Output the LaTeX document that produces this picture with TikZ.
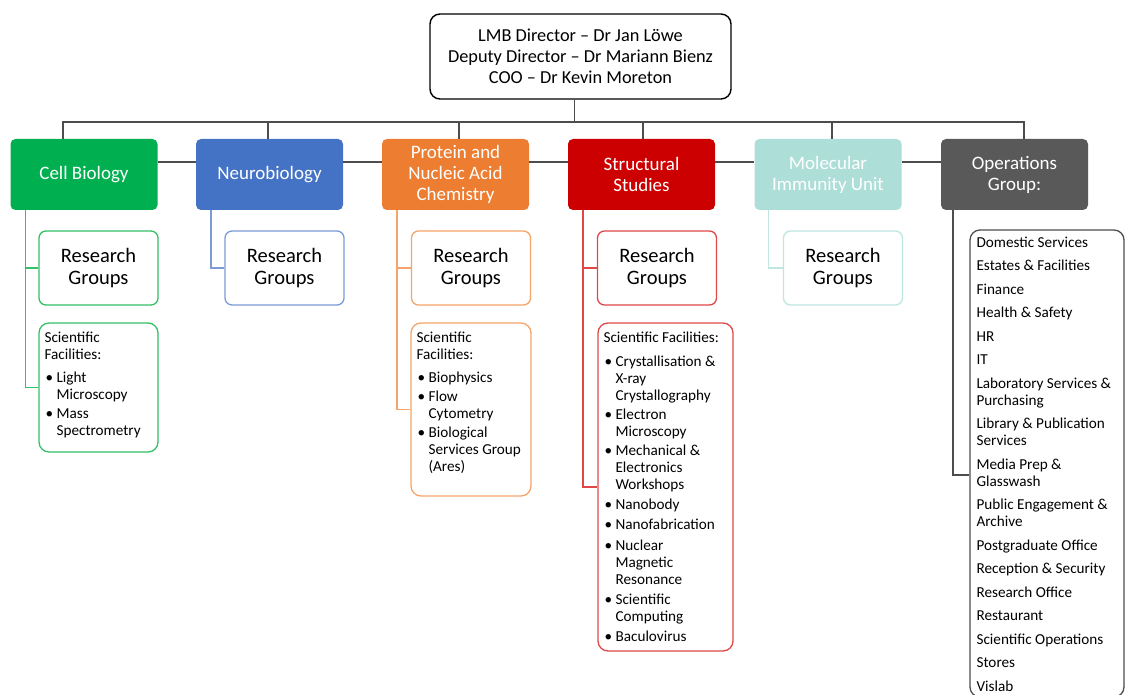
\documentclass[tikz,border=0pt]{standalone}
\usepackage{fontspec}
\setmainfont{Carlito}
\usetikzlibrary{positioning}

\definecolor{busgray}{HTML}{4D4D4D}
\definecolor{cbfill}{HTML}{00B050}
\definecolor{cbline}{HTML}{33C066}
\definecolor{nbfill}{HTML}{4472C4}
\definecolor{nbline}{HTML}{7B9BD6}
\definecolor{pnfill}{HTML}{ED7D31}
\definecolor{pnline}{HTML}{F5A46A}
\definecolor{ssfill}{HTML}{CC0000}
\definecolor{ssline}{HTML}{E04848}
\definecolor{mifill}{HTML}{AEDED8}
\definecolor{miline}{HTML}{BFE6E1}
\definecolor{opfill}{HTML}{595959}

\newcommand{\sfbul}{\makebox[12pt][l]{\hspace{1pt}\textbullet}}
\newcommand{\sfind}{\hspace*{12pt}}

\begin{document}
\begin{tikzpicture}[x=1pt, y=-1pt,
        dept/.style={rounded corners=5pt, minimum width=147pt, minimum height=71pt,
            inner sep=2pt, align=center, text=white, font=\fontsize{19}{21}\selectfont},
        rgbox/.style={draw, line width=1.3pt, rounded corners=7pt, fill=white,
            minimum width=119pt, minimum height=74pt, align=center,
            font=\fontsize{20.5}{22.5}\selectfont},
        sfbox/.style={draw, line width=1.3pt, rounded corners=10pt, fill=white},
        sftext/.style={anchor=north west, inner sep=0pt, align=left,
            font=\fontsize{15.2}{17}\selectfont},
        bus/.style={draw=busgray, line width=1.8pt},
        sub/.style={line width=1.4pt}]
    \useasboundingbox (0,0) rectangle (1125,695);

    % director box
    \node[draw, line width=1.4pt, rounded corners=10pt, minimum width=301pt, minimum height=85pt,
        align=center, font=\fontsize{18.3}{21}\selectfont] (top) at (580.5,56.5)
        {LMB Director -- Dr Jan Löwe\\ Deputy Director -- Dr Mariann Bienz\\ COO -- Dr Kevin Moreton};

    % divisions
    \node[dept, fill=cbfill] (cell) at (84,174.5) {Cell Biology};
    \node[dept, fill=nbfill] (neuro) at (269.5,174.5) {Neurobiology};
    \node[dept, fill=pnfill] (prot) at (455.5,174.5) {Protein and\\ Nucleic Acid\\ Chemistry};
    \node[dept, fill=ssfill] (struct) at (641.5,174.5) {Structural\\ Studies};
    \node[dept, fill=mifill] (mol) at (828,174.5) {Molecular\\ Immunity Unit};
    \node[dept, fill=opfill] (ops) at (1014.5,174.5) {Operations\\ Group:};

    % research groups
    \node[rgbox, draw=cbline] (cellrg) at (98.5,268) {Research\\ Groups};
    \node[rgbox, draw=nbline] (neurorg) at (284.5,268) {Research\\ Groups};
    \node[rgbox, draw=pnline] (protrg) at (471,268) {Research\\ Groups};
    \node[rgbox, draw=ssline] (structrg) at (657,268) {Research\\ Groups};
    \node[rgbox, draw=miline] (molrg) at (843,268) {Research\\ Groups};

    % scientific facilities
    \node[sfbox, draw=cbline, minimum width=119pt, minimum height=129pt] (cellsf) at (98.5,387.5) {};
    \node[sftext] (cellsftext) at ([xshift=6pt,yshift=-9pt]cellsf.north west)
        {Scientific\\ Facilities:\\[6pt]
         \sfbul Light\\ \sfind Microscopy\\[2pt]
         \sfbul Mass\\ \sfind Spectrometry};
    \node[sfbox, draw=pnline, minimum width=120pt, minimum height=173pt] (protsf) at (471,409.5) {};
    \node[sftext] (protsftext) at ([xshift=6pt,yshift=-9pt]protsf.north west)
        {Scientific\\ Facilities:\\[6pt]
         \sfbul Biophysics\\[2pt]
         \sfbul Flow\\ \sfind Cytometry\\[2pt]
         \sfbul Biological\\ \sfind Services Group\\ \sfind (Ares)};
    \node[sfbox, draw=ssline, minimum width=135pt, minimum height=328pt] (structsf) at (665.5,487) {};
    \node[sftext] (structsftext) at ([xshift=6pt,yshift=-9pt]structsf.north west)
        {Scientific Facilities:\\[7pt]
         \sfbul Crystallisation \&\\ \sfind X-ray\\ \sfind Crystallography\\[2pt]
         \sfbul Electron\\ \sfind Microscopy\\[2pt]
         \sfbul Mechanical \&\\ \sfind Electronics\\ \sfind Workshops\\[3pt]
         \sfbul Nanobody\\[3pt]
         \sfbul Nanofabrication\\[4pt]
         \sfbul Nuclear\\ \sfind Magnetic\\ \sfind Resonance\\[3pt]
         \sfbul Scientific\\ \sfind Computing\\[3pt]
         \sfbul Baculovirus};

    % operations list
    \node[draw=busgray, line width=1.3pt, rounded corners=10pt, minimum width=154pt,
        minimum height=467pt] (opslist) at (1047,463.5) {};
    \node[sftext, font=\fontsize{15.2}{17}\selectfont]
        (opsitems) at ([xshift=7pt,yshift=-7pt]opslist.north west)
        {Domestic Services\\[6.5pt] Estates \& Facilities\\[6.5pt] Finance\\[6.5pt]
         Health \& Safety\\[6.5pt] HR\\[6.5pt] IT\\[6.5pt]
         Laboratory Services \&\\ Purchasing\\[6.5pt]
         Library \& Publication\\ Services\\[6.5pt]
         Media Prep \&\\ Glasswash\\[6.5pt]
         Public Engagement \&\\ Archive\\[6.5pt]
         Postgraduate Office\\[6.5pt] Reception \& Security\\[6.5pt]
         Research Office\\[6.5pt] Restaurant\\[6.5pt]
         Scientific Operations\\[6.5pt] Stores\\[6.5pt] Vislab};

    % main bus
    \draw[bus] ([xshift=-6pt]top.south) -- ++(0,23);
    \draw[bus] ([xshift=-21pt]cell.north) -- ++(0,-17) -| ([xshift=9.5pt]ops.north);
    \foreach \d/\dx in {neuro/-1.5, prot/3.5, struct/1.5, mol/4}
        \draw[bus] ([xshift=\dx pt]\d.north) -- ++(0,-17);
    \foreach \a/\b in {cell/neuro, neuro/prot, prot/struct, struct/mol, mol/ops}
        \draw[bus] ([yshift=12.5pt]\a.east) -- ([yshift=12.5pt]\b.west);

    % division links
    \draw[sub, draw=cbline] ([xshift=15pt]cell.south west) |- (cellrg.west);
    \draw[sub, draw=cbline] ([xshift=15pt]cell.south west) |- (cellsf.west);
    \draw[sub, draw=nbline] ([xshift=15pt]neuro.south west) |- (neurorg.west);
    \draw[sub, draw=pnline] ([xshift=15pt]prot.south west) |- (protrg.west);
    \draw[sub, draw=pnline] ([xshift=15pt]prot.south west) |- (protsf.west);
    \draw[sub, draw=ssline] ([xshift=15pt]struct.south west) |- (structrg.west);
    \draw[sub, draw=ssline] ([xshift=15pt]struct.south west) |- (structsf.west);
    \draw[sub, draw=miline] ([xshift=14pt]mol.south west) |- (molrg.west);
    \draw[bus, line width=1.4pt] ([xshift=12pt]ops.south west) |- ([yshift=-11.5pt]opslist.west);
\end{tikzpicture}
\end{document}
